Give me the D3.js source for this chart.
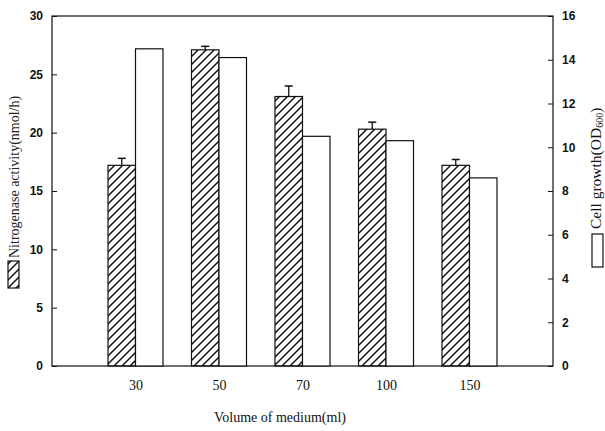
<!DOCTYPE html>
<html><head><meta charset="utf-8">
<script src="https://cdn.jsdelivr.net/npm/d3@7"></script>
<style>body{margin:0;background:#fff}</style>
</head><body>
<script>
const categories = ["30", "50", "70", "100", "150"];
const nitrogenase = [17.2, 27.1, 23.1, 20.3, 17.2];
const nitrogenaseErr = [0.6, 0.3, 0.9, 0.6, 0.5];
const cellGrowth = [14.5, 14.1, 10.5, 10.3, 8.6];
const leftTicks = [0, 5, 10, 15, 20, 25, 30];
const rightTicks = [0, 2, 4, 6, 8, 10, 12, 14, 16];

const W = 605, H = 431;
const svg = d3.select("body").append("svg").attr("width", W).attr("height", H);
const defs = svg.append("defs");
const pat = defs.append("pattern").attr("id", "hatch").attr("patternUnits", "userSpaceOnUse")
  .attr("width", 8).attr("height", 8);
pat.append("path").attr("d", "M-2,2 l4,-4 M0,8 l8,-8 M6,10 l4,-4")
  .attr("stroke", "#111").attr("stroke-width", 1.5);

const L = 52, R = 553, T = 16, B = 366;
const x = d3.scalePoint().domain(categories).range([L, R]).padding(1);
const yL = d3.scaleLinear().domain([0, 30]).range([B, T]);
const yR = d3.scaleLinear().domain([0, 16]).range([B, T]);
const bw = 27.5;

// frame
svg.append("rect").attr("x", L).attr("y", T).attr("width", R - L).attr("height", B - T)
  .attr("fill", "none").attr("stroke", "#111").attr("stroke-width", 1.2);

// bars
svg.selectAll(".hb").data(categories).enter().append("rect")
  .attr("x", d => x(d) - bw).attr("y", (d, i) => yL(nitrogenase[i]))
  .attr("width", bw).attr("height", (d, i) => B - yL(nitrogenase[i]))
  .attr("fill", "url(#hatch)").attr("stroke", "#111").attr("stroke-width", 1.2);
svg.selectAll(".ob").data(categories).enter().append("rect")
  .attr("x", d => x(d)).attr("y", (d, i) => yR(cellGrowth[i]))
  .attr("width", bw).attr("height", (d, i) => B - yR(cellGrowth[i]))
  .attr("fill", "#fff").attr("stroke", "#111").attr("stroke-width", 1.2);

// error bars
categories.forEach((c, i) => {
  const cx = x(c) - bw / 2;
  const y0 = yL(nitrogenase[i]), y1 = yL(nitrogenase[i] + nitrogenaseErr[i]);
  svg.append("line").attr("x1", cx).attr("x2", cx).attr("y1", y0).attr("y2", y1)
    .attr("stroke", "#111").attr("stroke-width", 1.3);
  svg.append("line").attr("x1", cx - 4).attr("x2", cx + 4).attr("y1", y1).attr("y2", y1)
    .attr("stroke", "#111").attr("stroke-width", 1.5);
});

// axes
const la = d3.axisRight(yL).tickValues(leftTicks).tickSize(5);
const gL = svg.append("g").attr("transform", `translate(${L},0)`).call(la);
gL.select(".domain").remove();
gL.selectAll("line").attr("stroke", "#111");
gL.selectAll("text").attr("text-anchor", "end").attr("x", -9)
  .style("font-family", "Liberation Sans, Arial, sans-serif").style("font-size", "12px")
  .style("font-weight", "bold").attr("fill", "#111");

const ra = d3.axisLeft(yR).tickValues(rightTicks).tickSize(5);
const gR = svg.append("g").attr("transform", `translate(${R},0)`).call(ra);
gR.select(".domain").remove();
gR.selectAll("line").attr("stroke", "#111");
gR.selectAll("text").attr("text-anchor", "start").attr("x", 9)
  .style("font-family", "Liberation Sans, Arial, sans-serif").style("font-size", "12px")
  .style("font-weight", "bold").attr("fill", "#111");

const ba = d3.axisBottom(x).tickSize(0).tickPadding(14);
const gB = svg.append("g").attr("transform", `translate(0,${B})`).call(ba);
gB.select(".domain").remove();
gB.selectAll("text").style("font-family", "Liberation Serif, Times New Roman, serif")
  .style("font-size", "14px").attr("fill", "#111");

// titles
const serif = "Liberation Serif, Times New Roman, serif";
svg.append("text").attr("x", 280).attr("y", 422).attr("text-anchor", "middle")
  .style("font-family", serif).style("font-size", "14px").attr("fill", "#111")
  .text("Volume of medium(ml)");

svg.append("text").attr("transform", "translate(19,258) rotate(-90)")
  .style("font-family", serif).style("font-size", "14px").attr("fill", "#222")
  .text("Nitrogenase activity(nmol/h)");
svg.append("rect").attr("x", 8).attr("y", 261).attr("width", 11).attr("height", 27)
  .attr("fill", "url(#hatch)").attr("stroke", "#111").attr("stroke-width", 1.2);

const rt = svg.append("text").attr("transform", "translate(601,229) rotate(-90)")
  .style("font-family", serif).style("font-size", "15.5px").attr("fill", "#111");
rt.append("tspan").text("Cell growth(OD");
rt.append("tspan").attr("font-size", "10px").attr("dy", 2).text("600");
rt.append("tspan").attr("dy", -2).text(")");
svg.append("rect").attr("x", 592).attr("y", 234).attr("width", 11).attr("height", 33)
  .attr("fill", "#fff").attr("stroke", "#111").attr("stroke-width", 1.2);
</script>
</body></html>
